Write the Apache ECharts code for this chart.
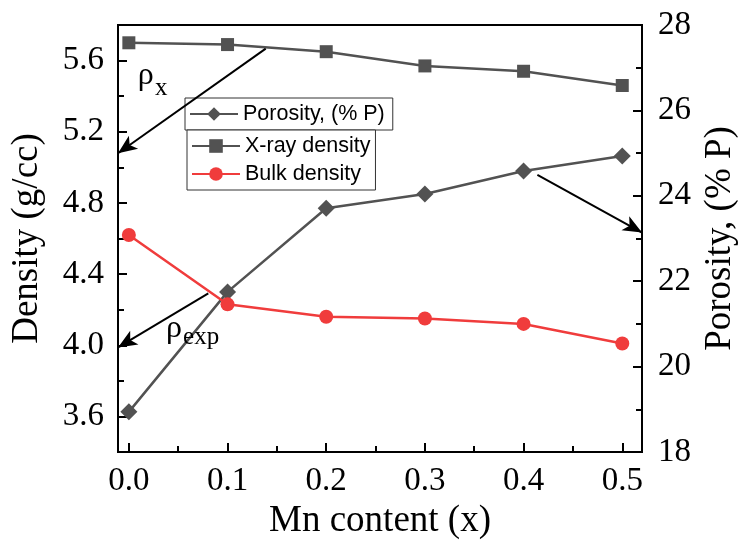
<!DOCTYPE html>
<html><head><meta charset="utf-8">
<script src="https://cdn.jsdelivr.net/npm/echarts@6/dist/echarts.min.js"></script>
<style>html,body{margin:0;padding:0;background:#fff}#c{width:740px;height:548px}</style>
</head><body><div id="c"></div>
<script>
// ---- data ----
const mnContent = [0.0, 0.1, 0.2, 0.3, 0.4, 0.5];
const xrayDensity = [5.70, 5.69, 5.65, 5.57, 5.54, 5.46];
const bulkDensity = [4.62, 4.23, 4.16, 4.15, 4.12, 4.01];
const porosity = [18.94, 21.75, 23.71, 24.04, 24.58, 24.93];
// ---- tick labels ----
const xMajorTicks = [0.0, 0.1, 0.2, 0.3, 0.4, 0.5];
const xMinorTicks = [0.05, 0.15, 0.25, 0.35, 0.45];
const densityMajorTicks = [3.6, 4.0, 4.4, 4.8, 5.2, 5.6];
const densityMinorTicks = [3.8, 4.2, 4.6, 5.0, 5.4];
const seriesNames = ['Porosity, (% P)', 'X-ray density', 'Bulk density'];
// ---- annotation anchors (data coordinates) ----
const arrowRhoX = [[0.1387, 5.667], [-0.011, 5.079]];
const arrowRhoExp = [[0.0805, 4.292], [-0.011, 3.988]];
const arrowPorosity = [[0.414, 24.49], [0.52, 23.14]];
const rhoXText = [[0.009, 5.516], [0.0265, 5.444]];
const rhoExpText = [[0.0376, 4.094], [0.0549, 4.046]];

const X_MIN = -0.011, X_MAX = 0.52, D_MIN = 3.4, D_MAX = 5.8, P_MIN = 18, P_MAX = 28;
const GRAY = '#525252', RED = '#f03c3c';
const serif = 'Liberation Serif', sans = 'Liberation Sans';

const pairs = (ys) => mnContent.map((x, i) => [x, ys[i]]);
const arrowLine = (a) => [{coord: a[0], symbol: 'none'}, {coord: a[1], symbol: 'arrow'}];
const markLineStyle = {
  silent: true, animation: false, symbolSize: [12, 19],
  lineStyle: {color: '#000', width: 2, type: 'solid'},
  label: {show: false}, emphasis: {disabled: true}
};
const textMark = (coord, txt, size) => ({
  coord: coord, symbolSize: 0,
  label: {show: true, formatter: txt, fontSize: size, fontFamily: serif, color: '#000',
          position: 'inside', align: 'left', verticalAlign: 'middle'}
});
const tickStyle = {color: '#000', width: 2};

const chart = echarts.init(document.getElementById('c'), null, {renderer: 'canvas'});
chart.setOption({
  animation: false,
  backgroundColor: '#fff',
  grid: {left: 118, right: 98, top: 25, bottom: 96, containLabel: false, outerBoundsMode: 'none',
         show: true, borderColor: '#000', borderWidth: 2, backgroundColor: 'transparent'},
  legend: [
    {data: [seriesNames[0]], left: 185, top: 98, orient: 'vertical', selectedMode: false,
     itemWidth: 48, itemHeight: 17, padding: [5, 8, 5, 4], itemGap: 6,
     borderColor: '#333', borderWidth: 1, backgroundColor: '#fff',
     textStyle: {fontFamily: sans, fontSize: 21.5, color: '#000'}},
    {data: [seriesNames[1], seriesNames[2]], left: 187, top: 130, orient: 'vertical', selectedMode: false,
     itemWidth: 48, itemHeight: 17, padding: [5, 5, 5, 4], itemGap: 6,
     borderColor: '#333', borderWidth: 1, backgroundColor: '#fff',
     textStyle: {fontFamily: sans, fontSize: 21.5, color: '#000'}}
  ],
  xAxis: [
    {type: 'value', position: 'bottom', min: X_MIN, max: X_MAX,
     name: 'Mn content (x)', nameLocation: 'middle', nameGap: 50,
     nameTextStyle: {fontFamily: serif, fontSize: 37, color: '#000'},
     axisLine: {show: true, onZero: false, lineStyle: tickStyle},
     axisTick: {show: true, inside: true, length: 9, lineStyle: tickStyle, customValues: xMajorTicks},
     axisLabel: {show: true, margin: 13, fontFamily: serif, fontSize: 33, color: '#000', customValues: xMajorTicks,
                 formatter: v => v.toFixed(1)},
     splitLine: {show: false}},
    {type: 'value', position: 'bottom', min: X_MIN, max: X_MAX,
     axisLine: {show: true, onZero: false, lineStyle: tickStyle},
     axisTick: {show: true, inside: true, length: 6, lineStyle: tickStyle, customValues: xMinorTicks},
     axisLabel: {show: false}, splitLine: {show: false}}
  ],
  yAxis: [
    {type: 'value', position: 'left', min: D_MIN, max: D_MAX,
     name: 'Density (g/cc)', nameLocation: 'middle', nameGap: 72, nameRotate: 90,
     nameTextStyle: {fontFamily: serif, fontSize: 37, color: '#000'},
     axisLine: {show: true, onZero: false, lineStyle: tickStyle},
     axisTick: {show: true, inside: true, length: 9, lineStyle: tickStyle, customValues: densityMajorTicks},
     axisLabel: {show: true, margin: 14, fontFamily: serif, fontSize: 33, color: '#000', customValues: densityMajorTicks,
                 formatter: v => v.toFixed(1)},
     splitLine: {show: false}},
    {type: 'value', position: 'right', min: P_MIN, max: P_MAX, interval: 2,
     name: 'Porosity, (% P)', nameLocation: 'middle', nameGap: 58, nameRotate: 90,
     nameTextStyle: {fontFamily: serif, fontSize: 37, color: '#000'},
     axisLine: {show: true, onZero: false, lineStyle: tickStyle},
     axisTick: {show: true, inside: true, length: 9, lineStyle: tickStyle},
     minorTick: {show: true, splitNumber: 2, length: 6, lineStyle: tickStyle},
     axisLabel: {show: true, margin: 16, fontFamily: serif, fontSize: 33, color: '#000'},
     splitLine: {show: false}, minorSplitLine: {show: false}},
    {type: 'value', position: 'left', min: D_MIN, max: D_MAX,
     axisLine: {show: true, onZero: false, lineStyle: tickStyle},
     axisTick: {show: true, inside: true, length: 6, lineStyle: {color: '#000', width: 2}, customValues: densityMinorTicks},
     axisLabel: {show: false}, splitLine: {show: false}}
  ],
  series: [
    {name: seriesNames[0], type: 'line', xAxisIndex: 0, yAxisIndex: 1, data: pairs(porosity),
     symbol: 'diamond', symbolSize: 17, showAllSymbol: true,
     lineStyle: {color: GRAY, width: 2.5}, itemStyle: {color: GRAY}, emphasis: {disabled: true},
     markLine: Object.assign({data: [arrowLine(arrowPorosity)]}, markLineStyle)},
    {name: seriesNames[1], type: 'line', xAxisIndex: 0, yAxisIndex: 0, data: pairs(xrayDensity),
     symbol: 'rect', symbolSize: 13, showAllSymbol: true,
     lineStyle: {color: GRAY, width: 2.5}, itemStyle: {color: GRAY}, emphasis: {disabled: true},
     markLine: Object.assign({data: [arrowLine(arrowRhoX), arrowLine(arrowRhoExp)]}, markLineStyle),
     markPoint: {silent: true, animation: false, symbol: 'circle', symbolSize: 0,
       data: [textMark(rhoXText[0], 'ρ', 32), textMark(rhoXText[1], 'x', 25),
              textMark(rhoExpText[0], 'ρ', 32), textMark(rhoExpText[1], 'exp', 25)]}},
    {name: seriesNames[2], type: 'line', xAxisIndex: 0, yAxisIndex: 0, data: pairs(bulkDensity),
     symbol: 'circle', symbolSize: 14, showAllSymbol: true,
     lineStyle: {color: RED, width: 2.5}, itemStyle: {color: RED}, emphasis: {disabled: true}}
  ]
});
</script></body></html>
